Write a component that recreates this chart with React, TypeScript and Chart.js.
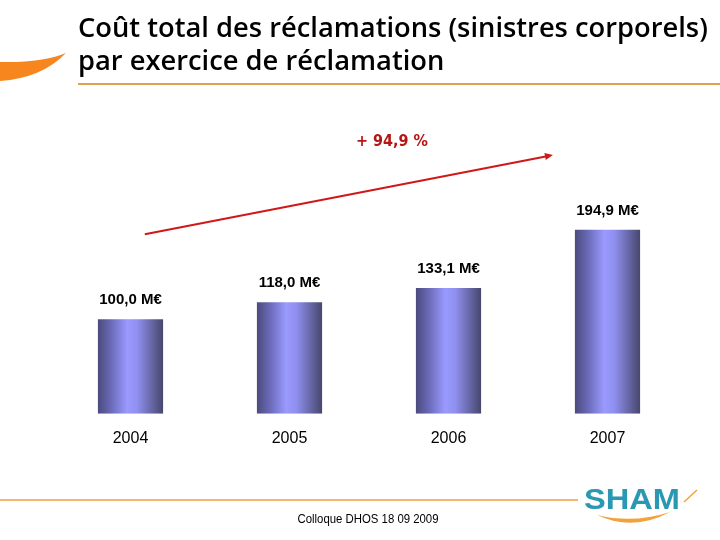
import React, { useEffect, useRef } from "react";
import { Chart, registerables } from "chart.js";

Chart.register(...registerables);

const TITLE_LINES = [
  "Coût total des réclamations (sinistres corporels)",
  "par exercice de réclamation",
];
const YEARS = ["2004", "2005", "2006", "2007"];
const COSTS = [100.0, 118.0, 133.1, 194.9];
const GROWTH_LABEL = "+ 94,9 %";
const FOOTER = "Colloque DHOS 18 09 2009";
const LOGO = "SHAM";

const fmt = (v: number) => v.toFixed(1).replace(".", ",") + " M€";

const decorPlugin = {
  id: "decor",
  beforeDraw(chart: any) {
    const ctx = chart.ctx as CanvasRenderingContext2D;
    ctx.save();
    ctx.fillStyle = "#ffffff";
    ctx.fillRect(0, 0, chart.width, chart.height);

    // orange swoosh
    ctx.fillStyle = "#f7861f";
    ctx.beginPath();
    ctx.moveTo(0, 62);
    ctx.quadraticCurveTo(42, 63, 66, 53);
    ctx.quadraticCurveTo(42, 78, 0, 81);
    ctx.closePath();
    ctx.fill();

    // title
    ctx.fillStyle = "#000000";
    ctx.textBaseline = "alphabetic";
    ctx.textAlign = "left";
    let size = 26;
    const fam = `"Open Sans", "Noto Sans", sans-serif`;
    ctx.font = `600 ${size}px ${fam}`;
    const w = ctx.measureText(TITLE_LINES[0]).width;
    size = (size * 630) / w;
    ctx.font = `600 ${size}px ${fam}`;
    ctx.fillText(TITLE_LINES[0], 78, 37);
    ctx.fillText(TITLE_LINES[1], 78, 70);

    // top rule
    ctx.strokeStyle = "#dfa24e";
    ctx.lineWidth = 2;
    ctx.beginPath();
    ctx.moveTo(78, 84);
    ctx.lineTo(720, 84);
    ctx.stroke();

    // footer rule
    ctx.strokeStyle = "#f0a13c";
    ctx.lineWidth = 1.5;
    ctx.beginPath();
    ctx.moveTo(0, 500);
    ctx.lineTo(578, 500);
    ctx.stroke();

    // footer text
    ctx.fillStyle = "#000000";
    ctx.textAlign = "center";
    ctx.textBaseline = "middle";
    ctx.font = `12px "Liberation Sans Narrow", "Liberation Sans", Arial`;
    const fw = ctx.measureText(FOOTER).width;
    ctx.save();
    ctx.translate(368, 520);
    ctx.scale(141 / fw, 1);
    ctx.fillText(FOOTER, 0, 0);
    ctx.restore();

    // logo
    ctx.fillStyle = "#2a98b2";
    ctx.font = `bold 30px "Liberation Sans", Arial`;
    const lw = ctx.measureText(LOGO).width;
    ctx.save();
    ctx.translate(632, 501);
    ctx.scale(96 / lw, 1);
    ctx.textAlign = "center";
    ctx.textBaseline = "middle";
    ctx.fillText(LOGO, 0, 0);
    ctx.restore();
    ctx.fillStyle = "#f2a23a";
    ctx.beginPath();
    ctx.moveTo(597, 515);
    ctx.quadraticCurveTo(633, 532, 670, 512);
    ctx.quadraticCurveTo(633, 524, 597, 515);
    ctx.fill();
    ctx.strokeStyle = "#f2a23a";
    ctx.lineWidth = 1.5;
    ctx.beginPath();
    ctx.moveTo(684, 502);
    ctx.lineTo(697, 490);
    ctx.stroke();
    ctx.restore();
  },
  afterDatasetsDraw(chart: any) {
    const ctx = chart.ctx as CanvasRenderingContext2D;
    const meta = chart.getDatasetMeta(0);
    ctx.save();
    ctx.fillStyle = "#000000";
    ctx.font = `bold 15px "Liberation Sans", Arial`;
    ctx.textAlign = "center";
    ctx.textBaseline = "middle";
    meta.data.forEach((el: any, i: number) => {
      ctx.fillText(fmt(COSTS[i]), el.x, el.y - 19);
    });

    // growth arrow
    const xs = chart.scales.x;
    const ys = chart.scales.y;
    const x1 = xs.getPixelForValue(0.09);
    const y1 = ys.getPixelForValue(COSTS[0] + 90);
    const x2 = xs.getPixelForValue(2.657);
    const y2 = ys.getPixelForValue(COSTS[0] + 174);
    ctx.strokeStyle = "#d01818";
    ctx.fillStyle = "#d01818";
    ctx.lineWidth = 2;
    ctx.beginPath();
    ctx.moveTo(x1, y1);
    ctx.lineTo(x2 - 6, y2 + 1.2);
    ctx.stroke();
    const ang = Math.atan2(y2 - y1, x2 - x1);
    ctx.beginPath();
    ctx.moveTo(x2, y2);
    ctx.lineTo(x2 - 8 * Math.cos(ang) + 3.5 * Math.sin(ang), y2 - 8 * Math.sin(ang) - 3.5 * Math.cos(ang));
    ctx.lineTo(x2 - 8 * Math.cos(ang) - 3.5 * Math.sin(ang), y2 - 8 * Math.sin(ang) + 3.5 * Math.cos(ang));
    ctx.closePath();
    ctx.fill();

    ctx.fillStyle = "#b51515";
    ctx.font = `bold 15px "DejaVu Sans", sans-serif`;
    const gw = ctx.measureText(GROWTH_LABEL).width;
    ctx.save();
    ctx.translate(392, 142);
    ctx.scale(72 / gw, 1);
    ctx.fillText(GROWTH_LABEL, 0, 0);
    ctx.restore();
    ctx.restore();
  },
};

export default function App() {
  const ref = useRef<HTMLCanvasElement>(null);
  useEffect(() => {
    if (!ref.current) return;
    const chart = new Chart(ref.current, {
      type: "bar",
      data: {
        labels: YEARS,
        datasets: [
          {
            data: COSTS,
            borderWidth: 0,
            backgroundColor: (c: any) => {
              const ch = c.chart;
              const xs = ch.scales?.x;
              if (!xs || !ch.chartArea) return "#8a8af0";
              const cx = xs.getPixelForValue(c.dataIndex);
              const half = ((ch.chartArea.right - ch.chartArea.left) / YEARS.length) * 0.41 / 2;
              const g = ch.ctx.createLinearGradient(cx - half, 0, cx + half, 0);
              g.addColorStop(0, "#4b4b7e");
              g.addColorStop(0.2, "#6a6ab8");
              g.addColorStop(0.45, "#9a9aff");
              g.addColorStop(0.6, "#9090f0");
              g.addColorStop(0.85, "#62629e");
              g.addColorStop(1, "#47476e");
              return g;
            },
            barPercentage: 0.41,
            categoryPercentage: 1,
          },
        ],
      },
      options: {
        animation: false,
        responsive: false,
        layout: { padding: { left: 51, right: 33, top: 206, bottom: 77 } },
        plugins: { legend: { display: false }, tooltip: { enabled: false } },
        scales: {
          x: {
            grid: { display: false, drawTicks: false },
            border: { display: false },
            ticks: { color: "#000", font: { family: '"Liberation Sans", Arial', size: 16 }, padding: 15 },
          },
          y: { display: false, min: 0, max: 220 },
        },
      },
      plugins: [decorPlugin],
    });
    return () => chart.destroy();
  }, []);
  return (
    <div style={{ position: "fixed", left: 0, top: 0, width: 720, height: 540 }}>
      <canvas ref={ref} width={720} height={540} style={{ width: 720, height: 540 }} />
    </div>
  );
}
